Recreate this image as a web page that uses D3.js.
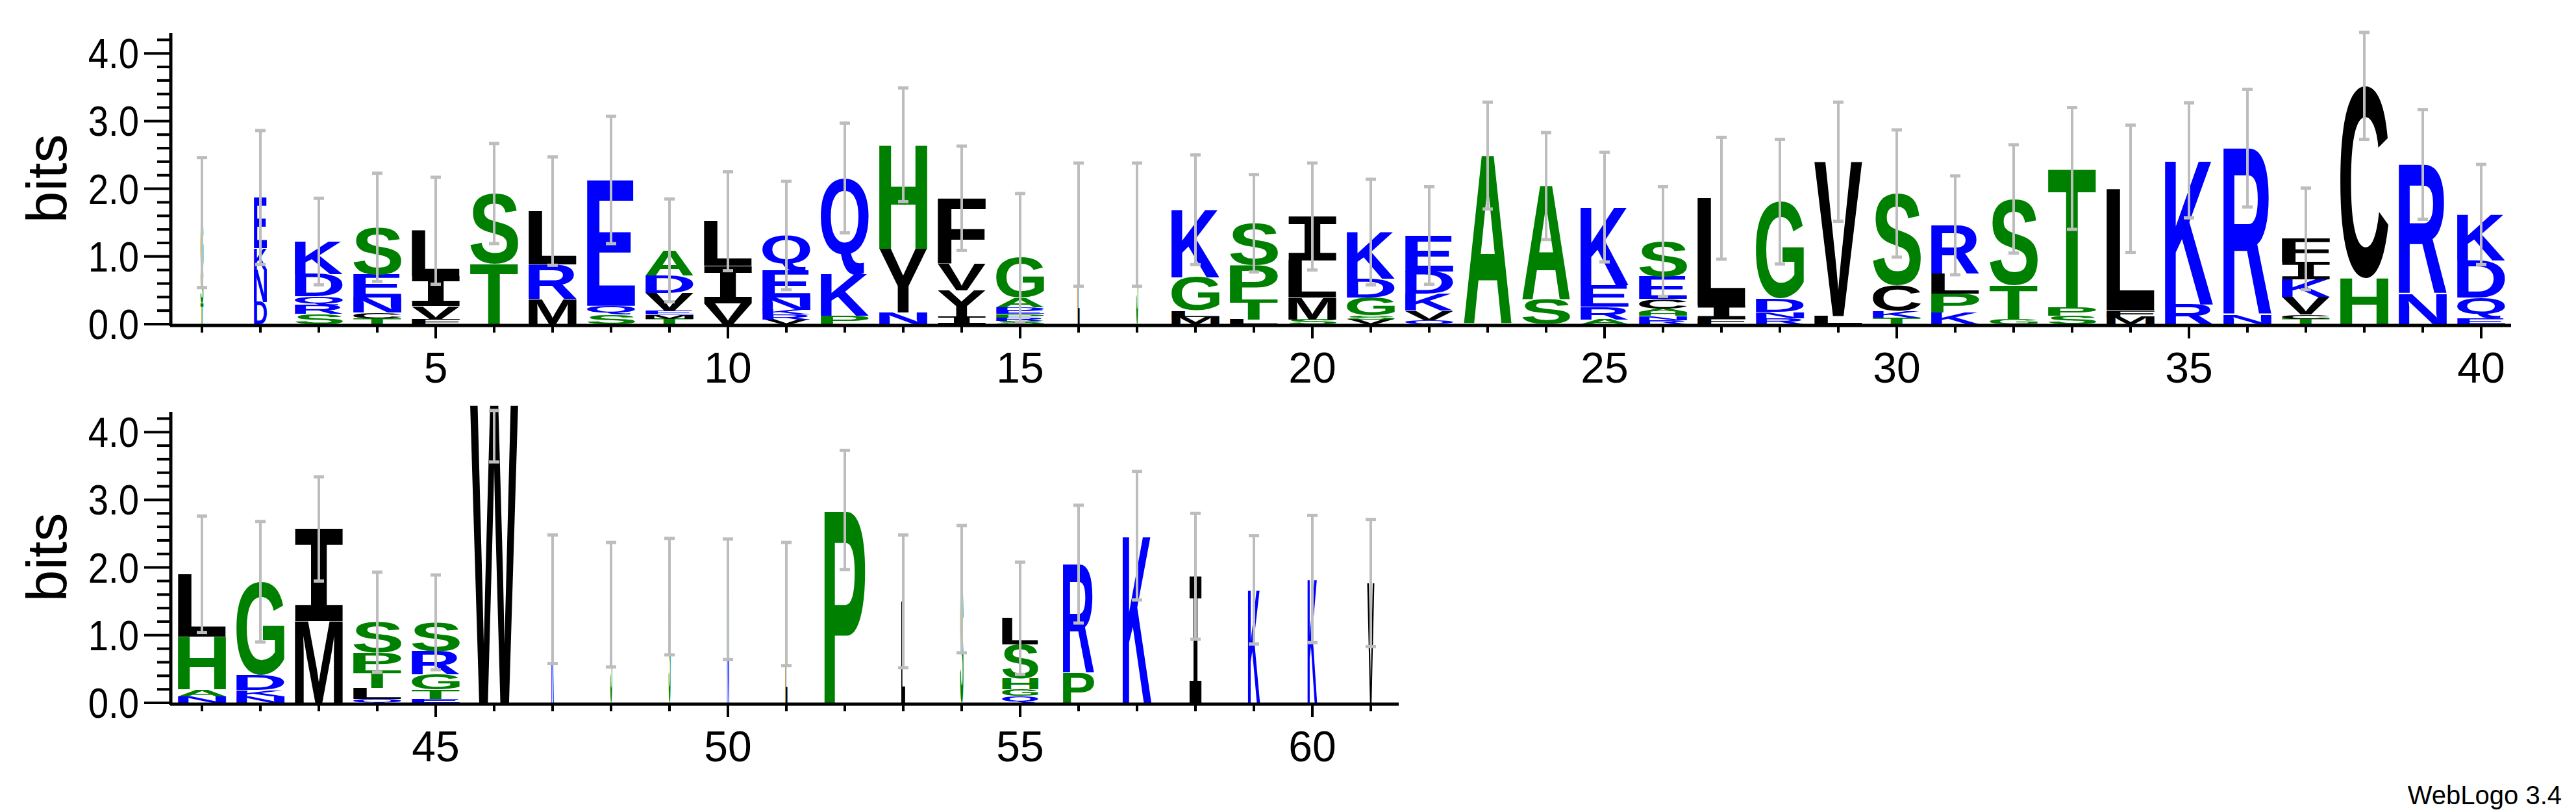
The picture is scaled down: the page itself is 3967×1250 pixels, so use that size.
<!DOCTYPE html>
<html><head><meta charset="utf-8">
<script src="https://cdn.jsdelivr.net/npm/d3@7"></script>
<style>body{margin:0;background:#fff}</style>
</head><body>
<svg id="c" width="3967" height="1250"></svg>
<script>
// Letters per position, bottom to top
const stackLetters = [
"TSG","DNKE","SRQDK","TCNES","FVIL","TS","MRL","SQE","TMEVDA","VIL",
"VRKNEQ","PKQ","NYH","IYVF","SRPEDAG","L","S","MLGK","LTPS","SMLI",
"VSGDK","QVKDE","A","SA","AREK","RNHACES","FIL","RNDG","LV","TKCS",
"KPLR","GTS","SPT","MFL","RK","NR","TCVKIF","HC","NR","EQDK",
"NAHL","NKDG","MI","QLTPS","ETGRS","W","K","S","S","N",
"L","P","L","S","QGHSL","PR","K","I","K","K","V"];
const stackBits = [
[.31,.51,.68],[.33,.48,.31,.75],[.15,.13,.13,.33,.48],[.09,.08,.22,.34,.7],[.07,.2,.44,.67],
[.89,1.04],[.37,.51,.79],[.14,.13,1.86],[.08,.06,.06,.26,.26,.37],[.31,.55,.66],
[.07,.07,.07,.18,.4,.52],[.12,.62,1.42],[.17,.94,1.54],[.11,.39,.39,.97],[.05,.05,.05,.05,.05,.14,.59],
[1.47],[1.47],[.11,.09,.49,1.0],[.07,.29,.51,.62],[.07,.32,.55,.65],
[.07,.06,.26,.28,.69],[.06,.14,.25,.33,.53],[2.49],[.36,1.68],[.07,.19,.32,1.15],
[.06,.06,.06,.05,.14,.33,.52],[.09,.19,1.58],[.09,.09,.2,1.43],[.12,2.28],[.1,.1,.38,1.35],
[.17,.28,.29,.72],[.08,.5,1.27],[.12,.12,2.06],[.11,.1,1.79],[.29,2.13],
[.14,2.46],[.08,.06,.26,.26,.26,.34],[.68,2.84],[.45,1.91],[.09,.3,.55,.68],
[.1,.1,.78,.92],[.1,.09,.22,1.38],[1.21,1.36],[.06,.16,.26,.26,.45],[.06,.14,.22,.34,.43],
[4.4],[1.53],[1.45],[1.57],[1.53],
[1.46],[2.85],[1.5],[1.68],[.1,.1,.16,.5,.39],
[.44,1.61],[2.47],[1.87],[1.67],[1.83],[1.77]];
const errBits = [.96,.99,.64,.8,.79,.74,.8,.94,.76,.73,.8,.81,.84,.77,.95,.91,.91,.81,.72,.79,
.78,.72,.79,.79,.81,.81,.9,.92,.88,.94,.73,.8,.9,.94,.85,.87,.75,.79,.81,.74,
.86,.89,.77,.74,.7,.84,.95,.92,.86,.89,.91,.88,.98,.94,.83,.87,.95,.93,.8,.94,.94];
const widthFrac = [.06,.27,1,1,1,1,1,1,1,1,1,1,1,1,1,.04,.04,1,1,1,
1,1,1,1,1,1,1,1,1,1,1,1,1,1,1,1,1,1,1,1,
1,1,1,1,1,1,.05,.04,.04,.04,.04,.85,.08,.07,.75,.65,.6,.25,.25,.2,.15];
const yTicks = [0,1,2,3,4];
const xTickLabels = [5,10,15,20,25,30,35,40,45,50,55,60];
const green=new Set("STGAHP"), blue=new Set("KRDENQ");
const col = ch => green.has(ch)?"#008000":blue.has(ch)?"#0000ff":"#000";

const svg = d3.select("#c");
const cv = document.createElement("canvas").getContext("2d");
const FS=200, FONT='"Liberation Sans", Arial, sans-serif', IFONT='"DejaVu Sans Mono", monospace';
const fontOf = ch => ch==="I"?IFONT:FONT;
const metrics = {};
function met(ch){ if(!metrics[ch]){cv.font=`bold ${FS}px ${fontOf(ch)}`;const m=cv.measureText(ch);metrics[ch]={l:m.actualBoundingBoxLeft,r:m.actualBoundingBoxRight,a:m.actualBoundingBoxAscent,d:m.actualBoundingBoxDescent};} return metrics[ch]; }

const panels = [{first:1,last:40,base:499,xEnd:3867},{first:41,last:61,base:1082,xEnd:2154}];
const LW = 74;
panels.forEach(p=>{
  const x = d3.scaleLinear().domain([p.first,p.first+1]).range([311,401]);
  const y = d3.scaleLinear().domain([0,1]).range([p.base,p.base-104.2]);
  const g = svg.append("g");
  for(let pos=p.first;pos<=p.last;pos++){
    const i=pos-1, L=stackLetters[i], B=stackBits[i];
    const w = LW*widthFrac[i], cx=x(pos);
    let cum=0;
    for(let k=0;k<L.length;k++){
      const ch=L[k], h=B[k], m=met(ch);
      const y0=y(cum+h), hp=y(cum)-y(cum+h);
      cum+=h;
      g.append("text").text(ch).attr("font-family",fontOf(ch)).attr("font-weight","bold")
        .attr("font-size",FS).attr("fill",col(ch))
        .attr("transform",`translate(${cx-w/2},${y0}) scale(${w/(m.l+m.r)},${hp/(m.a+m.d)}) translate(${m.l},${m.a})`);
    }
    const lo=Math.max(0,cum-errBits[i]), hi=Math.min(4.32,cum+errBits[i]);
    const eb=g.append("g").attr("stroke","#bdbdbd").attr("stroke-width",4);
    eb.append("line").attr("x1",cx).attr("x2",cx).attr("y1",y(lo)).attr("y2",y(hi));
    [lo,hi].forEach(v=>eb.append("line").attr("x1",cx-8).attr("x2",cx+8).attr("y1",y(v)).attr("y2",y(v)).attr("stroke-width",5));
  }
  const ax=g.append("g").attr("stroke","#000");
  ax.append("line").attr("x1",263).attr("x2",263).attr("y1",y(4.3)).attr("y2",p.base+3).attr("stroke-width",5);
  d3.range(0,4.21,0.2).forEach(v=>{
    const maj=Math.abs(v-Math.round(v))<1e-6;
    ax.append("line").attr("x1",maj?222:242).attr("x2",263).attr("y1",y(v)).attr("y2",y(v)).attr("stroke-width",4);
  });
  g.selectAll(".yl").data(yTicks).join("text").attr("x",214).attr("y",v=>y(v)+23)
    .attr("text-anchor","end").attr("font-family",'"Liberation Sans Narrow","Liberation Sans",sans-serif')
    .attr("font-size",64).attr("transform",`translate(${214*0.12},0) scale(0.88,1)`).text(v=>v.toFixed(1));
  ax.append("line").attr("x1",262).attr("x2",p.xEnd).attr("y1",p.base+2).attr("y2",p.base+2).attr("stroke-width",5);
  for(let pos=p.first;pos<=p.last;pos++){
    const maj=pos%5===0;
    ax.append("line").attr("x1",x(pos)).attr("x2",x(pos)).attr("y1",p.base+2).attr("y2",p.base+(maj?22:13)).attr("stroke-width",4);
  }
  g.selectAll(".xl").data(xTickLabels.filter(v=>v>=p.first&&v<=p.last)).join("text")
    .attr("x",v=>x(v)).attr("y",p.base+90).attr("text-anchor","middle")
    .attr("font-family",'"Liberation Sans Narrow","Liberation Sans",sans-serif').attr("font-size",66).text(v=>v);
  g.append("text").attr("transform",`translate(102,${y(2.15)}) rotate(-90)`).attr("text-anchor","middle")
    .attr("font-family",FONT).attr("font-size",88).text("bits");
});
svg.append("text").attr("x",3945).attr("y",1238).attr("text-anchor","end")
  .attr("font-family",FONT).attr("font-size",40).text("WebLogo 3.4");
</script>
</body></html>
